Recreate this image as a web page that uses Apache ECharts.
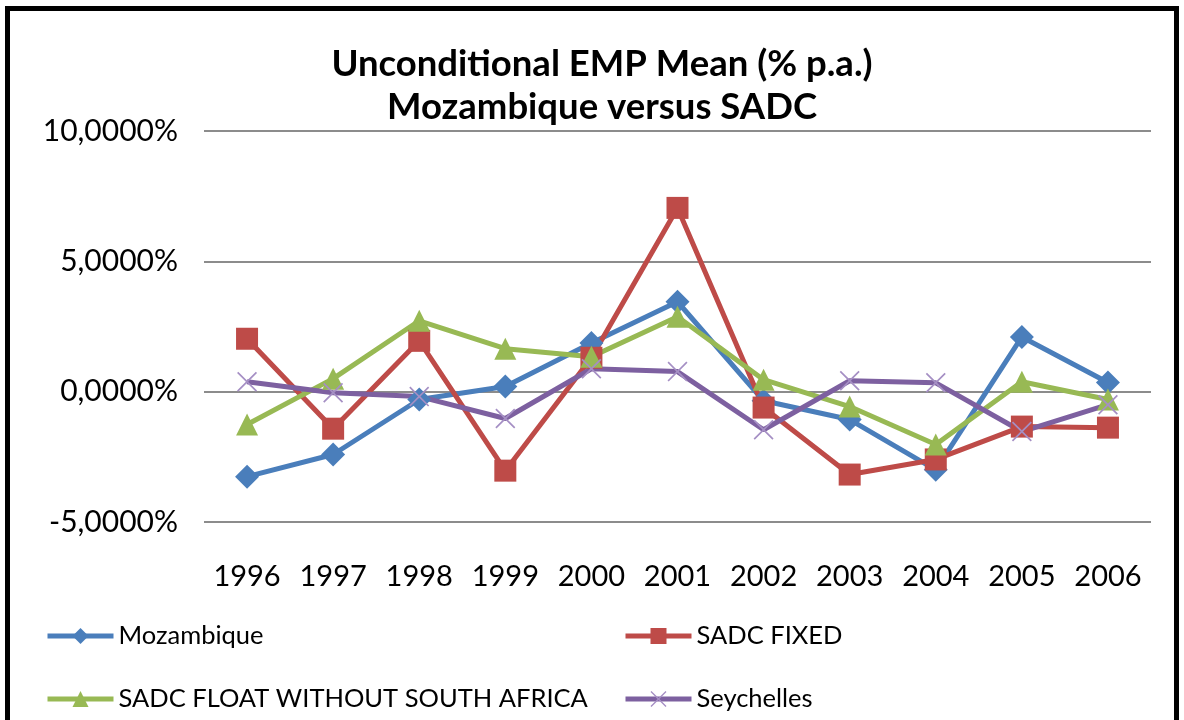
<!DOCTYPE html>
<html>
<head>
<meta charset="utf-8">
<script src="https://cdn.jsdelivr.net/npm/echarts@6/dist/echarts.min.js"></script>
<style>
  html, body { margin: 0; padding: 0; background: #fff; }
  #wrap { position: relative; width: 1184px; height: 720px; overflow: hidden; }
  #chart { width: 1184px; height: 720px; }
  /* thick frame round the chart, bottom edge is cut off */
  #frame {
    position: absolute; left: 5px; top: 6px; width: 1164px; height: 740px;
    border: 5px solid #000; pointer-events: none;
  }
</style>
</head>
<body>
<div id="wrap">
  <div id="chart"></div>
  <div id="frame"></div>
</div>
<script>
  // data (% p.a.)
  const years = ['1996', '1997', '1998', '1999', '2000', '2001', '2002', '2003', '2004', '2005', '2006']
  const mozambique = [-3.26, -2.41, -0.3, 0.2, 1.87, 3.45, -0.35, -1.07, -3.0, 2.1, 0.35]
  const sadcFixed = [2.03, -1.42, 1.95, -3.03, 1.3, 7.05, -0.61, -3.18, -2.6, -1.34, -1.38]
  const sadcFloat = [-1.26, 0.5, 2.72, 1.65, 1.34, 2.87, 0.46, -0.57, -2.03, 0.38, -0.3]
  const seychelles = [0.38, -0.04, -0.19, -1.03, 0.88, 0.77, -1.46, 0.42, 0.34, -1.53, -0.5]

  const font = 'Lato, "Open Sans", sans-serif'
  const crossPath = 'path://M0,0.6L0.6,0L5,4.4L9.4,0L10,0.6L5.6,5L10,9.4L9.4,10L5,5.6L0.6,10L0,9.4L4.4,5Z'

  function mkSeries (name, data, color, symbol, size, symColor) {
    return {
      name: name,
      type: 'line',
      data: data,
      symbol: symbol,
      symbolSize: size,
      lineStyle: { width: 5, color: color },
      itemStyle: { color: symColor || color },
      emphasis: { disabled: true },
      z: 2
    }
  }

  function legendAt (name, left, top) {
    return {
      data: [name],
      left: left,
      top: top,
      itemWidth: 66,
      itemHeight: 20,
      lineStyle: { width: 5 },
      textStyle: { fontFamily: font, fontSize: 25.5, color: '#000' }
    }
  }

  const chart = echarts.init(document.getElementById('chart'))
  chart.setOption({
    animation: false,
    title: {
      text: 'Unconditional EMP Mean (% p.a.)\nMozambique versus SADC',
      left: 597,
      top: 38,
      textAlign: 'center',
      textStyle: { fontFamily: font, fontSize: 36.5, fontWeight: 'bold', color: '#000', lineHeight: 43 }
    },
    legend: [
      legendAt('Mozambique', 40, 618),
      legendAt('SADC FIXED', 618, 618),
      legendAt('SADC FLOAT WITHOUT SOUTH AFRICA', 40, 681),
      legendAt('Seychelles', 618, 681)
    ],
    grid: { left: 204, right: 33, top: 131, bottom: 198 },
    xAxis: {
      type: 'category',
      data: years,
      boundaryGap: true,
      axisLine: { show: false },
      axisTick: { show: false },
      axisLabel: { interval: 0, hideOverlap: false, fontFamily: font, fontSize: 29, color: '#000', margin: 40 }
    },
    yAxis: {
      type: 'value',
      min: -5,
      max: 10,
      interval: 5,
      axisLine: { show: false },
      axisTick: { show: false },
      splitLine: { lineStyle: { color: '#8c8c8c', width: 2 } },
      axisLabel: {
        fontFamily: font, fontSize: 30, color: '#000', margin: 26,
        formatter: v => v.toFixed(4).replace('.', ',') + '%'
      }
    },
    series: [
      mkSeries('Mozambique', mozambique, '#4a7ebb', 'diamond', 24),
      mkSeries('SADC FIXED', sadcFixed, '#be4b48', 'rect', 22),
      mkSeries('SADC FLOAT WITHOUT SOUTH AFRICA', sadcFloat, '#98b954', 'triangle', 22),
      mkSeries('Seychelles', seychelles, '#7d60a0', crossPath, 20, '#a58fc4')
    ]
  })
</script>
</body>
</html>
